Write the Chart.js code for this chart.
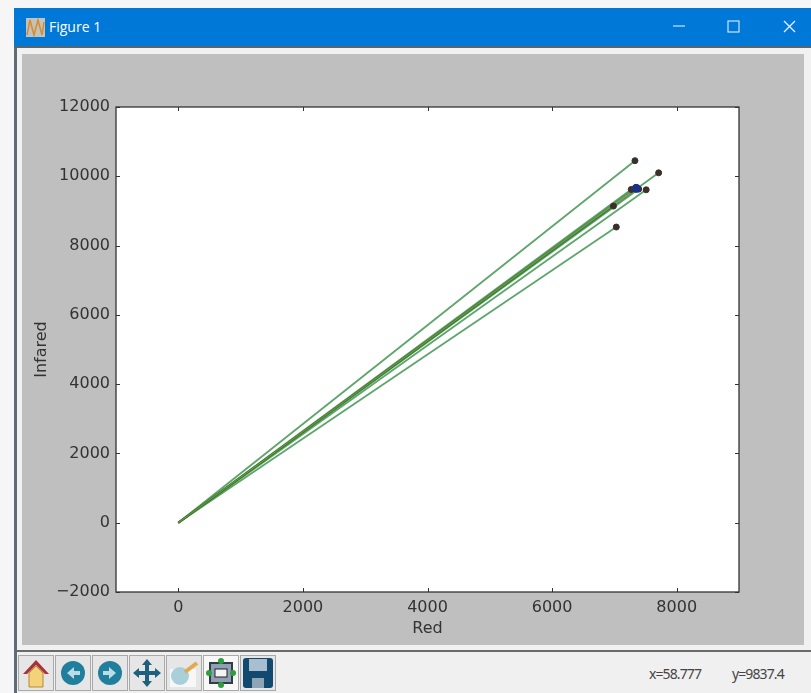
<!DOCTYPE html>
<html>
<head>
<meta charset="utf-8">
<title>Figure 1</title>
<script src="https://cdn.jsdelivr.net/npm/chart.js@4"></script>
<style>
html, body { margin: 0; padding: 0; width: 811px; height: 693px; overflow: hidden; background: #f6f6f6; }
#page { position: absolute; left: 0; top: 0; width: 811px; height: 693px; filter: blur(0.45px); }
#win { position: absolute; left: 14px; top: 8px; width: 797px; height: 685px; background: #f0f0f0; }
#titlebar { position: absolute; left: 0; top: 0; width: 797px; height: 38px; background: #0078d7; color: #fff; font: 14px "Open Sans", sans-serif; }
#titlebar .name { position: absolute; left: 35px; top: 9px; }
#titlebar svg { position: absolute; left: 0; top: 0; }
#edge { position: absolute; left: 0; top: 38px; width: 3px; height: 647px; background: #5f6b75; }
#topline { position: absolute; left: 0; top: 38px; width: 797px; height: 2px; background: #5f6468; }
#figure { position: absolute; left: 22px; top: 54px; width: 782px; height: 591px; background: #bfbfbf; }
#sheet { position: absolute; left: 17px; top: 48px; width: 794px; height: 603px; background: #f1f1f1; }
#botline { position: absolute; left: 17px; top: 650px; width: 794px; height: 2px; background: #6a6a6a; }
#figure canvas { display: block; }
#tools { position: absolute; left: 17px; top: 654px; }
.status { position: absolute; top: 664px; font: 14px "Noto Sans", sans-serif; color: #444; letter-spacing: -0.9px; white-space: nowrap; }
</style>
</head>
<body>
<div id="page">
<div id="win">
  <div id="titlebar">
    <svg width="797" height="38">
      <rect x="12" y="10" width="19" height="19" fill="#c3c3bb"/>
      <polyline points="13,27 16,12 20,27 24,12 28,27 30,14" fill="none" stroke="#d98a2b" stroke-width="1.5"/>
      <line x1="659" y1="18" x2="671" y2="18" stroke="#bcdcf5" stroke-width="1.3"/>
      <rect x="714" y="13" width="11" height="11" fill="none" stroke="#cfe6f8" stroke-width="1.2"/>
      <path d="M770 13 L781 24 M781 13 L770 24" stroke="#eaf4fc" stroke-width="1.3"/>
    </svg>
    <span class="name">Figure 1</span>
  </div>
  <div id="edge"></div>
  <div id="topline"></div>
</div>
<div id="sheet"></div>
<div id="botline"></div>
<div id="figure"><canvas id="plot" width="782" height="591"></canvas></div>
<svg id="tools" width="265" height="39">
  <g fill="#e6e6e6" stroke="#a9a9a9">
    <rect x="1.5" y="1.5" width="35" height="35"/><rect x="38.5" y="1.5" width="35" height="35"/>
    <rect x="75.5" y="1.5" width="35" height="35"/><rect x="112.5" y="1.5" width="35" height="35"/>
    <rect x="149.5" y="1.5" width="35" height="35"/><rect x="186.5" y="1.5" width="35" height="35"/>
    <rect x="223.5" y="1.5" width="35" height="35"/>
  </g>
  <path d="M6 20 L19 6 L32 20 L28 20 L19 11 L10 20Z" fill="#a8323a"/>
  <path d="M12 19 L19 12 L26 19 L26 33 L12 33Z" fill="#f3d27a" stroke="#b98a2b"/>
  <circle cx="56" cy="19" r="12" fill="#1f7f9c"/><path d="M50 19 L57 13 L57 17 L63 17 L63 21 L57 21 L57 25Z" fill="#b9dce6"/>
  <circle cx="93" cy="19" r="12" fill="#1f7f9c"/><path d="M99 19 L92 13 L92 17 L86 17 L86 21 L92 21 L92 25Z" fill="#b9dce6"/>
  <path d="M130 5 L135 11 L132 11 L132 17 L138 17 L138 14 L144 19 L138 24 L138 21 L132 21 L132 27 L135 27 L130 33 L125 27 L128 27 L128 21 L122 21 L122 24 L116 19 L122 14 L122 17 L128 17 L128 11 L125 11Z" fill="#20607f"/>
  <rect x="153" y="15" width="26" height="18" fill="#f7f7f7"/><circle cx="163" cy="22" r="9" fill="#a9cfd8"/>
  <path d="M168 18 L180 9" stroke="#e3a94e" stroke-width="4"/>
  <rect x="187" y="2" width="34" height="34" fill="#f8f8f8"/>
  <rect x="193" y="9" width="22" height="20" fill="#8f9fb5" stroke="#2f3f3f" stroke-width="2"/>
  <rect x="198" y="15" width="12" height="8" fill="#f4f4f4" stroke="#222"/>
  <g fill="#2f9e3f"><circle cx="204" cy="7" r="3"/><circle cx="204" cy="31" r="3"/><circle cx="192" cy="19" r="3"/><circle cx="216" cy="19" r="3"/></g>
  <rect x="226" y="4" width="30" height="30" rx="3" fill="#12496f"/>
  <rect x="232" y="5" width="18" height="12" fill="#a9bfd0"/><rect x="235" y="24" width="12" height="10" fill="#8fa5b5"/>
</svg>
<div class="status" style="left:649px">x=58.777</div>
<div class="status" style="left:732px">y=9837.4</div>
</div>
<script>
const redValues = [7330, 7710, 7510, 7270, 6985, 7030, 7350, 7390];
const infraredValues = [10450, 10100, 9610, 9620, 9140, 8535, 9680, 9630];
const meanRed = [7350];
const meanInfrared = [9650];
const originX = 0;
const originY = 0;
const xTicks = [0, 2000, 4000, 6000, 8000];
const yTicks = [-2000, 0, 2000, 4000, 6000, 8000, 10000, 12000];

const tickFont = { family: 'DejaVu Sans', size: 16 };
const inkColor = '#333333';

function buildDatasets() {
    let result = [];
    for (let i = 0; i < redValues.length; i++) {
        result.push({
            type: 'line',
            data: [{ x: originX, y: originY }, { x: redValues[i], y: infraredValues[i] }],
            borderColor: 'rgba(30, 130, 50, 0.72)',
            borderWidth: 1.8,
            pointRadius: 0,
            order: 3
        });
    }
    // the mean line sits on top of the green ones
    result.push({
        type: 'line',
        data: [{ x: originX, y: originY }, { x: meanRed[0], y: meanInfrared[0] }],
        borderColor: 'rgba(225, 130, 60, 0.75)',
        borderWidth: 1,
        pointRadius: 0,
        order: 2
    });
    result.push({
        type: 'scatter',
        data: redValues.map((v, i) => ({ x: v, y: infraredValues[i] })),
        backgroundColor: '#3a2f2b',
        borderColor: '#3a2f2b',
        pointRadius: 3,
        order: 1
    });
    result.push({
        type: 'scatter',
        data: [{ x: meanRed[0], y: meanInfrared[0] }],
        backgroundColor: '#1c2f86',
        borderColor: '#1c2f86',
        pointRadius: 4,
        order: 0
    });
    return result;
}

// matplotlib style frame: box all round, ticks pointing inward on the four sides
const frameTicks = {
    id: 'frameTicks',
    afterDatasetsDraw(chart) {
        const { ctx, chartArea: a, scales } = chart;
        ctx.save();
        ctx.strokeStyle = inkColor;
        ctx.lineWidth = 1;
        ctx.beginPath();
        scales.x.ticks.forEach(t => {
            let px = Math.round(scales.x.getPixelForValue(t.value)) + 0.5;
            ctx.moveTo(px, a.top); ctx.lineTo(px, a.top + 4);
            ctx.moveTo(px, a.bottom); ctx.lineTo(px, a.bottom - 4);
        });
        scales.y.ticks.forEach(t => {
            let py = Math.round(scales.y.getPixelForValue(t.value)) + 0.5;
            ctx.moveTo(a.left, py); ctx.lineTo(a.left + 4, py);
            ctx.moveTo(a.right, py); ctx.lineTo(a.right - 4, py);
        });
        ctx.stroke();
        ctx.lineWidth = 1.3;
        ctx.strokeRect(a.left, a.top, a.right - a.left, a.bottom - a.top);
        ctx.restore();
    }
};

const whiteArea = {
    id: 'whiteArea',
    beforeDatasetsDraw(chart) {
        const { ctx, chartArea: a } = chart;
        ctx.save();
        ctx.fillStyle = '#ffffff';
        ctx.fillRect(a.left, a.top, a.right - a.left, a.bottom - a.top);
        ctx.restore();
    }
};

const config = {
    type: 'scatter',
    data: { datasets: buildDatasets() },
    options: {
        responsive: false,
        animation: false,
        layout: { padding: { left: 0, top: 53, right: 65, bottom: 0 } },
        plugins: { legend: { display: false }, title: { display: false }, tooltip: { enabled: false } },
        scales: {
            x: {
                type: 'linear',
                min: -1000,
                max: 9000,
                afterBuildTicks(scale) { scale.ticks = xTicks.map(v => ({ value: v })); },
                afterFit(scale) { scale.height = 53; },
                grid: { display: false, drawTicks: false },
                border: { display: false },
                ticks: { color: inkColor, font: tickFont, padding: 6, maxRotation: 0, callback: v => String(v) },
                title: { display: true, text: 'Red', color: inkColor, font: tickFont, padding: { top: 0, bottom: 7 } }
            },
            y: {
                type: 'linear',
                min: -2000,
                max: 12000,
                afterBuildTicks(scale) { scale.ticks = yTicks.map(v => ({ value: v })); },
                afterFit(scale) { scale.width = 94; },
                grid: { display: false, drawTicks: false },
                border: { display: false },
                ticks: { color: inkColor, font: tickFont, padding: 6, callback: v => String(v).replace('-', '\u2212') },
                title: { display: true, text: 'Infared', color: inkColor, font: tickFont, padding: { top: 10, bottom: 0 } }
            }
        }
    },
    plugins: [whiteArea, frameTicks]
};
const theChart = new Chart(document.getElementById('plot'), config);
</script>
</body>
</html>
